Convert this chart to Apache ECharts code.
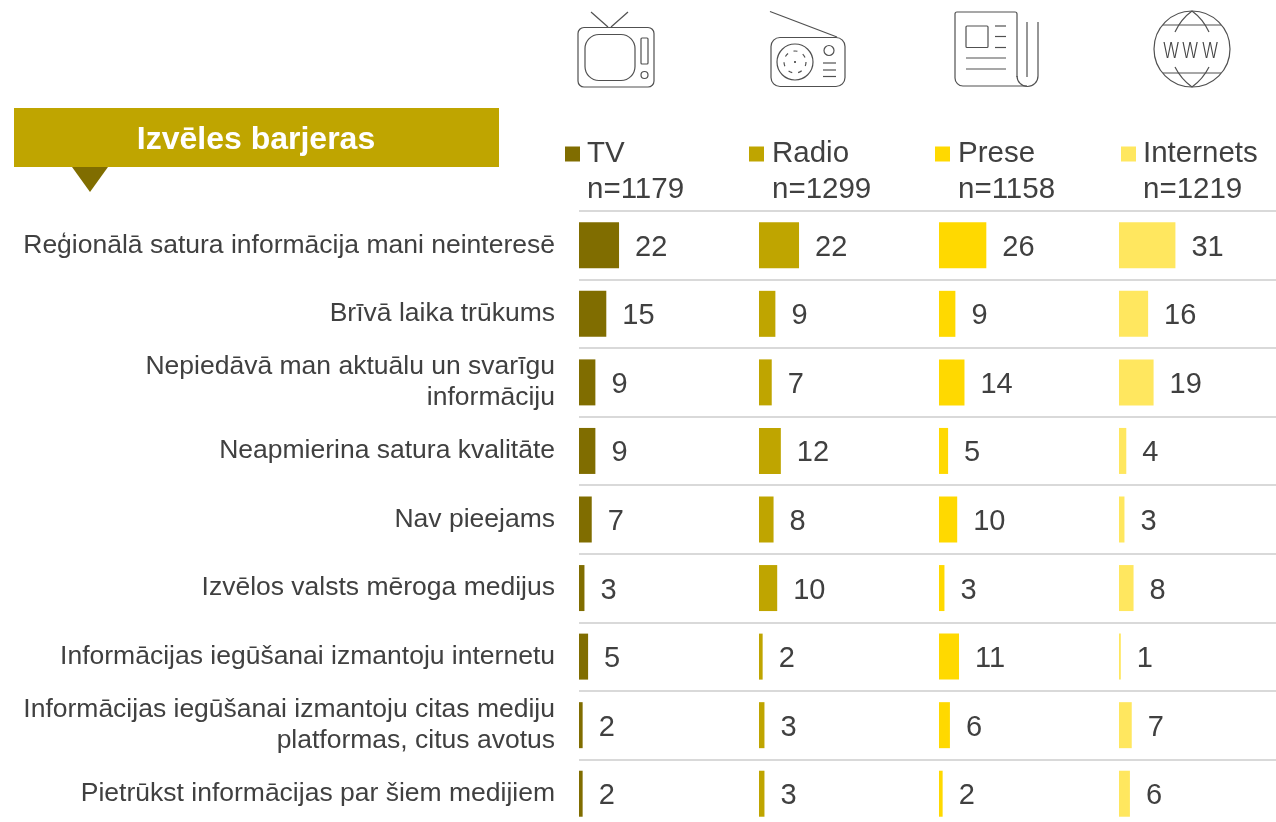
<!DOCTYPE html>
<html>
<head>
<meta charset="utf-8">
<title>Izvēles barjeras</title>
<script src="https://cdn.jsdelivr.net/npm/echarts@6/dist/echarts.min.js"></script>
<style>
html, body { margin: 0; padding: 0; background: #fff; overflow: hidden; }
#main { width: 1276px; height: 822px; }
</style>
</head>
<body>
<div id="main"></div>
<script>
var categories = [
    'Reģionālā satura informācija mani neinteresē',
    'Brīvā laika trūkums',
    'Nepiedāvā man aktuālu un svarīgu\ninformāciju',
    'Neapmierina satura kvalitāte',
    'Nav pieejams',
    'Izvēlos valsts mēroga medijus',
    'Informācijas iegūšanai izmantoju internetu',
    'Informācijas iegūšanai izmantoju citas mediju\nplatformas, citus avotus',
    'Pietrūkst informācijas par šiem medijiem'
];
var tvValues = [22, 15, 9, 9, 7, 3, 5, 2, 2];
var radioValues = [22, 9, 7, 12, 8, 10, 2, 3, 3];
var preseValues = [26, 9, 14, 5, 10, 3, 11, 6, 2];
var internetValues = [31, 16, 19, 4, 3, 8, 1, 7, 6];
var seriesNames = ['TV', 'Radio', 'Prese', 'Internets'];
var sampleLabels = ['n=1179', 'n=1299', 'n=1158', 'n=1219'];
var colors = ['#806d00', '#bfa500', '#ffd900', '#ffe75f'];
var allValues = [tvValues, radioValues, preseValues, internetValues];

var font = '"Liberation Sans", Arial, sans-serif';
var textColor = '#404040';
var iconColor = '#505050';
var pxPerUnit = 1.82;
var gridLefts = [579, 759, 939, 1119];
var gridWidths = [180, 180, 180, 157];
var legendIconLefts = [565, 749, 935, 1121];
var legendTextLefts = [587, 772, 958, 1143];

var myChart = echarts.init(document.getElementById('main'), null, { renderer: 'canvas' });

var grids = [], xAxes = [], yAxes = [], series = [], legends = [], graphics = [];

// icon helpers
function line(x1, y1, x2, y2) {
    return { type: 'line', shape: { x1: x1, y1: y1, x2: x2, y2: y2 }, style: { stroke: iconColor, lineWidth: 1.2, fill: null } };
}
function box(x, y, w, h, r) {
    return { type: 'rect', shape: { x: x, y: y, width: w, height: h, r: r }, style: { stroke: iconColor, lineWidth: 1.2, fill: null } };
}
function circle(cx, cy, r, dash) {
    return { type: 'circle', shape: { cx: cx, cy: cy, r: r }, style: { stroke: iconColor, lineWidth: 1.2, fill: null, lineDash: dash || null } };
}
function arc(cx, cy, r, a0, a1) {
    return { type: 'arc', shape: { cx: cx, cy: cy, r: r, startAngle: a0, endAngle: a1, clockwise: true }, style: { stroke: iconColor, lineWidth: 1.2, fill: null } };
}
function curve(x1, y1, cx, cy, x2, y2) {
    return { type: 'bezierCurve', shape: { x1: x1, y1: y1, cpx1: cx, cpy1: cy, x2: x2, y2: y2 }, style: { stroke: iconColor, lineWidth: 1.2, fill: null } };
}
function www(x) {
    return { type: 'text', x: x, y: 52, scaleX: 0.8, style: { text: 'W', x: 0, y: 0, align: 'center', verticalAlign: 'middle', fontFamily: 'Inter', fontWeight: 300, fontSize: 21, fill: '#444' } };
}

graphics.push(
    // banner
    { type: 'rect', shape: { x: 14, y: 108, width: 485, height: 59 }, style: { fill: '#bfa500' } },
    { type: 'polygon', shape: { points: [[72, 167], [108, 167], [90, 192]] }, style: { fill: '#806d00' } },
    { type: 'text', style: { text: 'Izvēles barjeras', x: 256, y: 140, align: 'center', verticalAlign: 'middle', fontFamily: font, fontWeight: 'bold', fontSize: 32, fill: '#fff' } },
    // TV
    line(591, 12, 608, 27), line(628, 12, 611, 27),
    box(578, 27.5, 76, 59.5, 6), box(585, 34.5, 50, 46, 14), box(641, 38, 7, 26, 1),
    circle(644.5, 75, 3.5),
    // radio
    line(770, 11.5, 837, 37),
    box(771, 37.5, 74, 49, 9), circle(795, 62, 18), circle(795, 62, 11, [4, 6]),
    { type: 'circle', shape: { cx: 795, cy: 62, r: 1 }, style: { fill: '#333' } },
    circle(829, 50.5, 5), line(823, 63, 836, 63), line(823, 70, 836, 70), line(823, 76.5, 836, 76.5),
    // newspaper
    line(1017, 14, 1017, 77), line(957, 12, 1015, 12), line(955, 14, 955, 78), line(963, 86, 1027, 86),
    arc(1015, 14, 2, -Math.PI / 2, 0), arc(957, 14, 2, Math.PI, Math.PI * 1.5), arc(963, 78, 8, Math.PI / 2, Math.PI),
    arc(1027.5, 76, 10.5, 0, Math.PI), line(1038, 22, 1038, 76), line(1027, 22, 1027, 77),
    box(966, 26, 22, 21.5, 1),
    line(995, 26, 1006, 26), line(995, 36.5, 1006, 36.5), line(995, 47.5, 1006, 47.5),
    line(966, 58, 1006, 58), line(966, 69, 1006, 69),
    // globe
    circle(1192, 49, 38), line(1163, 25, 1221, 25), line(1163, 73, 1221, 73),
    curve(1175, 32, 1181, 19, 1192, 11), curve(1209, 32, 1203, 19, 1192, 11),
    curve(1175, 67, 1181, 79, 1192, 87), curve(1209, 67, 1203, 79, 1192, 87),
    www(1171), www(1190), www(1210)
);

seriesNames.forEach(function (name, i) {
    grids.push({ left: gridLefts[i], top: 211, width: gridWidths[i], height: 617, outerBoundsMode: 'none' });
    xAxes.push({ type: 'value', gridIndex: i, show: false, min: 0, max: gridWidths[i] / pxPerUnit });
    yAxes.push({
        type: 'category',
        gridIndex: i,
        inverse: true,
        data: categories,
        axisLine: { show: false },
        axisTick: { show: false },
        axisLabel: {
            show: i === 0,
            margin: 24,
            align: 'right',
            fontFamily: font,
            fontSize: 26.5,
            lineHeight: 31,
            color: textColor,
            padding: [5, 0, 0, 0]
        },
        splitLine: { show: true, lineStyle: { color: '#d9d9d9', width: 2 } }
    });
    series.push({
        name: name,
        type: 'bar',
        xAxisIndex: i,
        yAxisIndex: i,
        barWidth: 46,
        data: allValues[i],
        itemStyle: { color: colors[i] },
        label: {
            show: true,
            position: 'right',
            distance: 16,
            offset: [0, 2.5],
            fontFamily: font,
            fontSize: 29,
            color: textColor
        }
    });
    legends.push({
        data: [name],
        left: legendIconLefts[i],
        top: 139,
        padding: 0,
        itemGap: 0,
        itemWidth: 15,
        itemHeight: 15,
        icon: 'rect',
        selectedMode: false,
        textStyle: { fontFamily: font, fontSize: 29.5, color: textColor, padding: [6, 0, 0, legendTextLefts[i] - legendIconLefts[i] - 20] }
    });
    graphics.push({
        type: 'text',
        style: { text: sampleLabels[i], x: legendTextLefts[i], y: 190, verticalAlign: 'middle', fontFamily: font, fontSize: 29.5, fill: textColor }
    });
});

myChart.setOption({
    animation: false,
    backgroundColor: '#fff',
    grid: grids,
    xAxis: xAxes,
    yAxis: yAxes,
    legend: legends,
    series: series,
    graphic: graphics
});
</script>
</body>
</html>
